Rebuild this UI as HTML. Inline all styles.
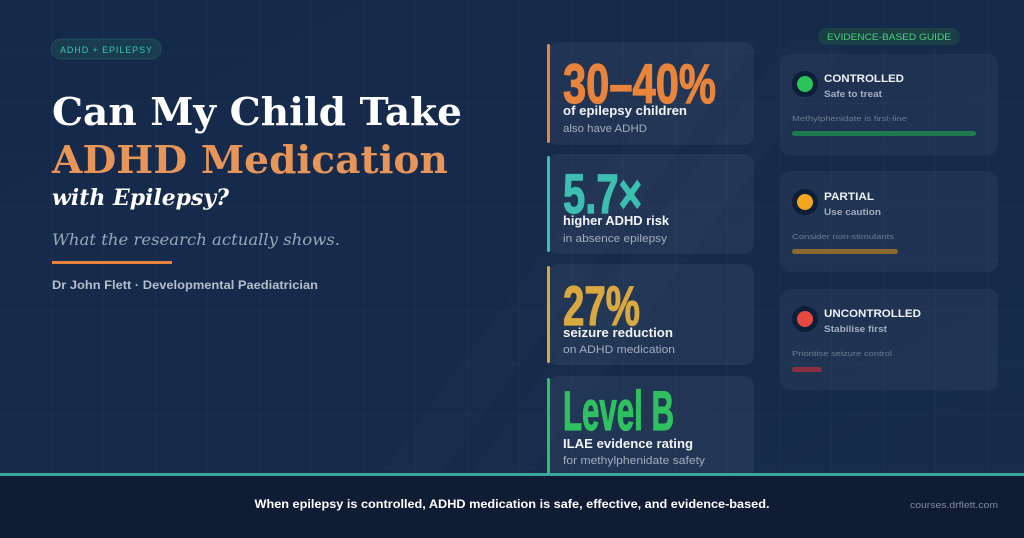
<!DOCTYPE html>
<html><head><meta charset="utf-8"><style>
html,body{margin:0;padding:0;background:#152847;}
svg{display:block}
</style></head><body>
<svg width="1024" height="538" viewBox="0 0 1024 538" xmlns="http://www.w3.org/2000/svg">
<defs>
<linearGradient id="bg" x1="0" y1="0" x2="1" y2="1">
<stop offset="0" stop-color="#15294a"/><stop offset="1" stop-color="#172c4d"/>
</linearGradient>
<pattern id="grid" width="52" height="52" patternUnits="userSpaceOnUse">
<path d="M52 0V52M0 52H52" stroke="#ffffff" stroke-opacity="0.035" stroke-width="1" fill="none"/>
</pattern>
</defs>
<rect width="1024" height="538" fill="url(#bg)"/>
<rect width="1024" height="474" fill="url(#grid)"/>
<polygon points="380,474 700,40 760,40 440,474" fill="#ffffff" fill-opacity="0.012"/>
<polygon points="470,474 790,40 850,40 530,474" fill="#ffffff" fill-opacity="0.01"/>

<g font-family="Liberation Sans, sans-serif">
<!-- left -->
<rect x="51" y="39" width="110" height="20" rx="10" fill="#1d4a52" fill-opacity="0.6" stroke="#2a6a6a" stroke-opacity="0.5"/>
<text x="106" y="53" font-size="9" fill="#3cc3b2" text-anchor="middle" textLength="92">ADHD + EPILEPSY</text>
<text x="52" y="125" font-family="DejaVu Serif, serif" font-weight="bold" font-size="38" fill="#ffffff" textLength="410" lengthAdjust="spacingAndGlyphs">Can My Child Take</text>
<text x="52" y="173" font-family="DejaVu Serif, serif" font-weight="bold" font-size="38" fill="#e8955a" textLength="396" lengthAdjust="spacingAndGlyphs">ADHD Medication</text>
<text x="52" y="205" font-family="DejaVu Serif, serif" font-weight="bold" font-style="italic" font-size="22" fill="#ffffff" textLength="177" lengthAdjust="spacingAndGlyphs">with Epilepsy?</text>
<text x="52" y="245" font-family="DejaVu Serif, serif" font-style="italic" font-size="16" fill="#9aa6b8" textLength="288" lengthAdjust="spacingAndGlyphs">What the research actually shows.</text>
<rect x="52" y="261" width="120" height="3" fill="#e8843c"/>
<text x="52" y="289" font-size="11.5" font-weight="bold" fill="#b5bfcc" textLength="266" lengthAdjust="spacingAndGlyphs">Dr John Flett · Developmental Paediatrician</text>

<!-- stat cards -->
<g fill="#ffffff" fill-opacity="0.05">
<rect x="548" y="42" width="206" height="103" rx="10"/>
<rect x="548" y="154" width="206" height="100" rx="10"/>
<rect x="548" y="264" width="206" height="101" rx="10"/>
<rect x="548" y="376" width="206" height="110" rx="10"/>
</g>
<rect x="547" y="44" width="3" height="99" rx="1.5" fill="#e8843c"/>
<rect x="547" y="156" width="3" height="96" rx="1.5" fill="#3cbfb0"/>
<rect x="547" y="266" width="3" height="97" rx="1.5" fill="#d9a840"/>
<rect x="547" y="378" width="3" height="96" rx="1.5" fill="#2fc060"/>

<g font-family="Liberation Sans Narrow, Liberation Sans, sans-serif" font-weight="bold" font-size="56" stroke-width="1.2">
<text x="563" y="103" fill="#e8843c" stroke="#e8843c" textLength="153" lengthAdjust="spacingAndGlyphs">30–40%</text>
<text x="563" y="213" fill="#3cbfb0" stroke="#3cbfb0" textLength="79" lengthAdjust="spacingAndGlyphs">5.7×</text>
<text x="563" y="325" fill="#d9a840" stroke="#d9a840" textLength="77" lengthAdjust="spacingAndGlyphs">27%</text>
<text x="563" y="430" fill="#2fc060" stroke="#2fc060" textLength="111" lengthAdjust="spacingAndGlyphs">Level B</text>
</g>
<g font-size="13" font-weight="bold" fill="#f2f4f8">
<text x="563" y="115" textLength="124" lengthAdjust="spacingAndGlyphs">of epilepsy children</text>
<text x="563" y="225" textLength="106" lengthAdjust="spacingAndGlyphs">higher ADHD risk</text>
<text x="563" y="337" textLength="110" lengthAdjust="spacingAndGlyphs">seizure reduction</text>
<text x="563" y="448" textLength="130" lengthAdjust="spacingAndGlyphs">ILAE evidence rating</text>
</g>
<g font-size="11" fill="#a3adbd">
<text x="563" y="132" textLength="84" lengthAdjust="spacingAndGlyphs">also have ADHD</text>
<text x="563" y="242" textLength="104" lengthAdjust="spacingAndGlyphs">in absence epilepsy</text>
<text x="563" y="353" textLength="112" lengthAdjust="spacingAndGlyphs">on ADHD medication</text>
<text x="563" y="464" textLength="142" lengthAdjust="spacingAndGlyphs">for methylphenidate safety</text>
</g>

<!-- right -->
<rect x="818" y="28" width="142" height="17" rx="8.5" fill="#1d4a44" fill-opacity="0.7"/>
<text x="889" y="40" font-size="9" fill="#4cd07a" text-anchor="middle" textLength="124" lengthAdjust="spacingAndGlyphs">EVIDENCE-BASED GUIDE</text>
<g fill="#ffffff" fill-opacity="0.04">
<rect x="780" y="54" width="218" height="101" rx="10"/>
<rect x="780" y="171" width="218" height="101" rx="10"/>
<rect x="780" y="289" width="218" height="101" rx="10"/>
</g>
<circle cx="805" cy="84" r="13" fill="#0f1e38"/><circle cx="805" cy="84" r="8" fill="#2bc45c"/>
<circle cx="805" cy="202" r="13" fill="#0f1e38"/><circle cx="805" cy="202" r="8" fill="#f2a71e"/>
<circle cx="805" cy="319" r="13" fill="#0f1e38"/><circle cx="805" cy="319" r="8" fill="#e8493e"/>
<g font-size="11" font-weight="bold" fill="#eef1f6">
<text x="824" y="82" textLength="80" lengthAdjust="spacingAndGlyphs">CONTROLLED</text>
<text x="824" y="200" textLength="50" lengthAdjust="spacingAndGlyphs">PARTIAL</text>
<text x="824" y="317" textLength="97" lengthAdjust="spacingAndGlyphs">UNCONTROLLED</text>
</g>
<g font-size="9.5" font-weight="bold" fill="#a3adbd">
<text x="824" y="97" textLength="58" lengthAdjust="spacingAndGlyphs">Safe to treat</text>
<text x="824" y="215" textLength="57" lengthAdjust="spacingAndGlyphs">Use caution</text>
<text x="824" y="332" textLength="63" lengthAdjust="spacingAndGlyphs">Stabilise first</text>
</g>
<g font-size="7" fill="#6f7c92">
<text x="792" y="121" textLength="115" lengthAdjust="spacingAndGlyphs">Methylphenidate is first-line</text>
<text x="792" y="239" textLength="102" lengthAdjust="spacingAndGlyphs">Consider non-stimulants</text>
<text x="792" y="356" textLength="100" lengthAdjust="spacingAndGlyphs">Prioritise seizure control</text>
</g>
<rect x="792" y="131" width="184" height="5" rx="2.5" fill="#1e7a4c"/>
<rect x="792" y="249" width="106" height="5" rx="2.5" fill="#8a6a2e"/>
<rect x="792" y="367" width="30" height="5" rx="2.5" fill="#8a3040"/>

<!-- footer -->
<rect x="0" y="474" width="1024" height="64" fill="#101c33"/>
<rect x="0" y="473" width="1024" height="3" fill="#3aa89c"/>
<text x="512" y="508" font-size="12" font-weight="bold" fill="#ffffff" text-anchor="middle" textLength="515" lengthAdjust="spacingAndGlyphs">When epilepsy is controlled, ADHD medication is safe, effective, and evidence-based.</text>
<text x="998" y="508" font-size="9" fill="#7f8aa0" text-anchor="end" textLength="88" lengthAdjust="spacingAndGlyphs">courses.drflett.com</text>
</g>
</svg>
</body></html>
